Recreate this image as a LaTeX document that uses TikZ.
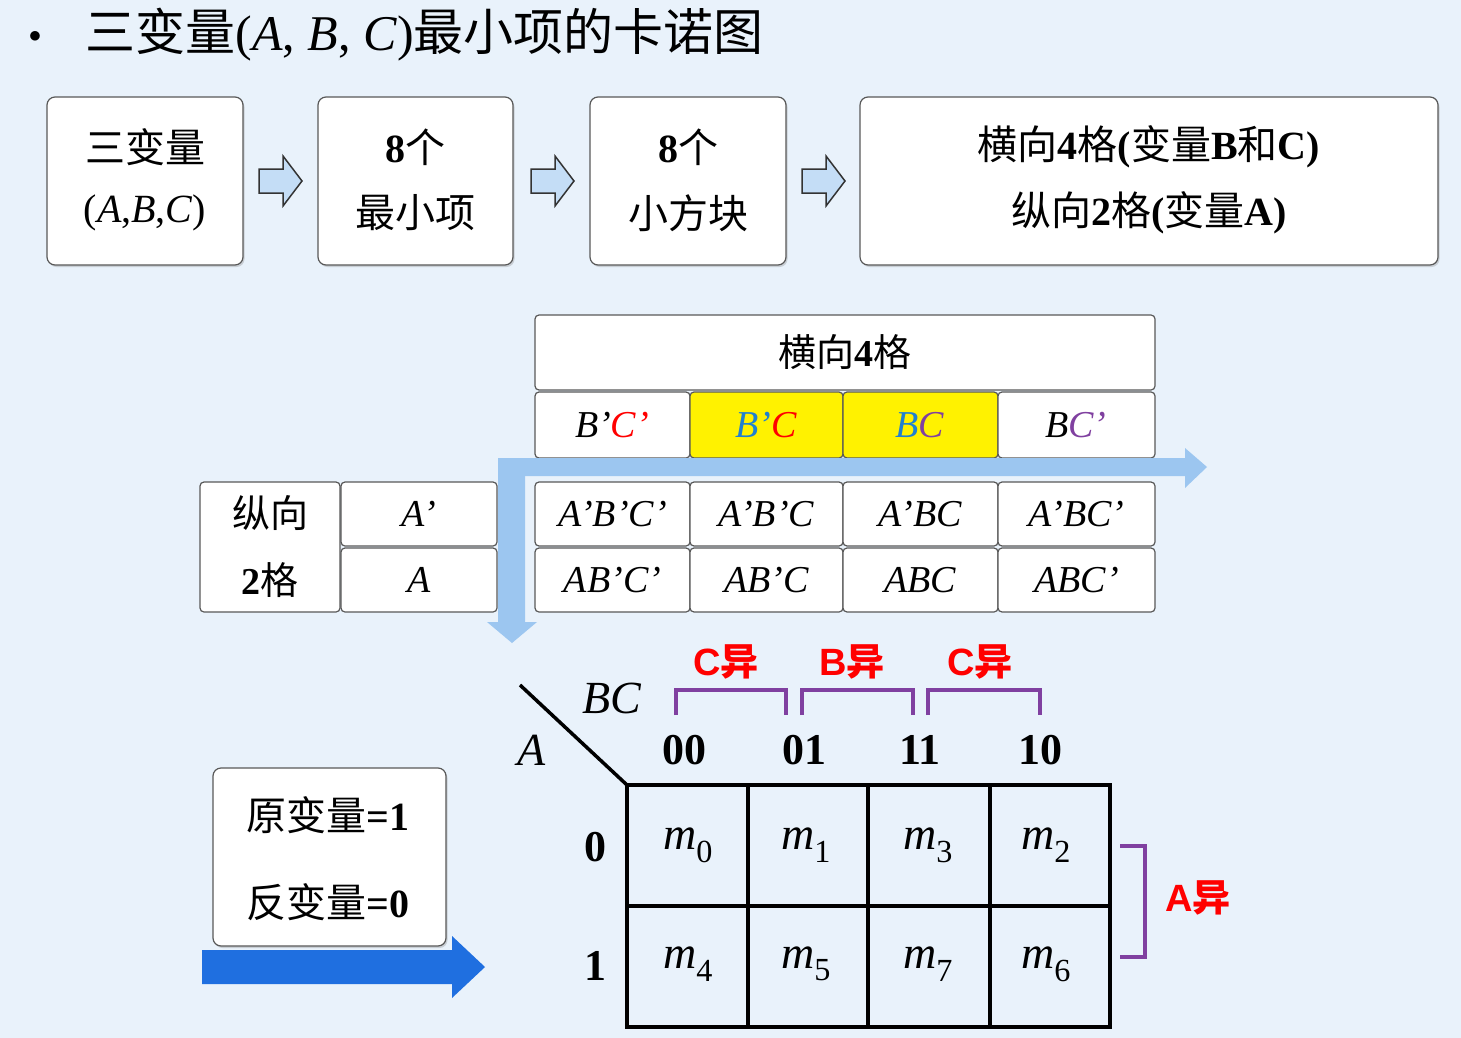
\documentclass[tikz,border=0pt]{standalone}
\usepackage{fontspec}
\setmainfont{Liberation Serif}
\newfontfamily\cjk{Noto Sans CJK SC}
\newfontfamily\sfb{Liberation Sans}
\usetikzlibrary{shadows}
\definecolor{bg}{HTML}{E9F2FB}
\definecolor{lb}{HTML}{9CC6F0}
\definecolor{pur}{HTML}{8040A0}
\definecolor{bb}{HTML}{1F6FE0}
\definecolor{bluet}{HTML}{2080D0}
\newcommand{\mysarrow}[2]{\draw[gray!40!black,line width=1.5pt,fill=lb!60] (#1-21,#2-12) -- (#1+3,#2-12) -- (#1+3,#2-25) -- (#1+22,#2) -- (#1+3,#2+25) -- (#1+3,#2+12) -- (#1-21,#2+12) -- cycle;}
\begin{document}
\begin{tikzpicture}[x=1pt,y=-1pt,
 box/.style={draw=gray!70!black,line width=1.2pt,fill=white,rounded corners=8pt,drop shadow={shadow xshift=1.5pt,shadow yshift=-2pt,opacity=0.3}},
 cell/.style={draw=gray!70!black,line width=1.2pt,fill=white,rounded corners=4pt},
 big/.style={font=\fontsize{40}{44}\selectfont},
 mid/.style={font=\fontsize{38}{40}\selectfont},
 kl/.style={font=\fontsize{44}{46}\selectfont\bfseries},
 mm/.style={font=\fontsize{46}{48}\selectfont},
 red/.style={text=red,font=\sfb\fontsize{38}{40}\selectfont\bfseries},
 brk/.style={draw=pur,line width=4pt}]
\useasboundingbox (0,0) rectangle (1461,1038);
\fill[bg] (0,0) rectangle (1461,1038);
% title
\node (bul) at (35,37) {\fontsize{36}{36}\selectfont$\bullet$};
\node[anchor=west] (title) at (82,35) {\fontsize{50}{52}\selectfont\cjk 三变量{\rmfamily(\textit{A}, \textit{B}, \textit{C})}最小项的卡诺图};
% top boxes
\draw[box] (47,97) rectangle (243,265);
\draw[box] (318,97) rectangle (513,265);
\draw[box] (590,97) rectangle (786,265);
\draw[box] (860,97) rectangle (1438,265);
\node[big] (t1) at (145,147) {\cjk 三变量};
\node[big] (t1b) at (145,213) {(\textit{A},\textit{B},\textit{C})};
\node[big] (t2) at (415,147) {\textbf{8}\cjk 个};
\node[big] (t2b) at (415,213) {\cjk 最小项};
\node[big] (t3) at (688,147) {\textbf{8}\cjk 个};
\node[big] (t3b) at (688,213) {\cjk 小方块};
\node[big] (t4) at (1149,147) {\cjk 横向{\rmfamily\bfseries 4}格{\rmfamily\bfseries (}变量{\rmfamily\bfseries B}和{\rmfamily\bfseries C)}};
\node[big] (t4b) at (1149,213) {\cjk 纵向{\rmfamily\bfseries 2}格{\rmfamily\bfseries (}变量{\rmfamily\bfseries A)}};
\mysarrow{280}{181}
\mysarrow{552}{181}
\mysarrow{823}{181}
% middle table
\draw[cell] (535,315) rectangle (1155,390);
\node[mid] (h4) at (845,352) {\cjk 横向{\rmfamily\bfseries 4}格};
\draw[cell] (535,392) rectangle (690,458);
\draw[cell,fill=yellow] (690,392) rectangle (843,458);
\draw[cell,fill=yellow] (843,392) rectangle (998,458);
\draw[cell] (998,392) rectangle (1155,458);
\node[mid] (c1) at (612,425) {\textit{B'\textcolor{red}{C'}}};
\node[mid] (c2) at (766,425) {\textit{\textcolor{bluet}{B'}\textcolor{red}{C}}};
\node[mid] (c3) at (920,425) {\textit{\textcolor{bluet}{B}\textcolor{pur}{C}}};
\node[mid] (c4) at (1076,425) {\textit{B\textcolor{pur}{C'}}};
% arrows
\fill[lb] (498,458) -- (1185,458) -- (1185,448) -- (1207,467) -- (1185,488) -- (1185,476) -- (516,476) -- (516,458) -- cycle;
\fill[lb] (498,458) -- (525,458) -- (525,622) -- (537,622) -- (512,643) -- (487,622) -- (498,622) -- cycle;
\draw[cell] (200,482) rectangle (340,612);
\node[mid] (z1) at (270,513) {\cjk 纵向};
\node[mid] (z2) at (270,580) {{\bfseries 2}\cjk 格};
\draw[cell] (341,482) rectangle (497,546);
\draw[cell] (341,548) rectangle (497,612);
\node[mid] (ra) at (419,514) {\textit{A'}};
\node[mid] (rb) at (419,580) {\textit{A}};
\foreach \xa/\xb/\t/\u in {535/690/A'B'C'/AB'C',690/843/A'B'C/AB'C,843/998/A'BC/ABC,998/1155/A'BC'/ABC'}{
 \draw[cell] (\xa,482) rectangle (\xb,546);
 \draw[cell] (\xa,548) rectangle (\xb,612);
 \node[mid] at ({(\xa+\xb)/2},514) {\textit{\t}};
 \node[mid] at ({(\xa+\xb)/2},580) {\textit{\u}};
}
% K-map
\draw[line width=4pt] (627,785) rectangle (1110,1027);
\foreach \x in {748,868,990} \draw[line width=4pt] (\x,785) -- (\x,1027);
\draw[line width=4pt] (627,906) -- (1110,906);
\coordinate (d1) at (520,685);
\coordinate (d2) at (627,785);
\draw[line width=3.5pt] (d1) -- (d2);
\node[font=\fontsize{46}{48}\selectfont\itshape] (bc) at (612,698) {BC};
\node[font=\fontsize{46}{48}\selectfont\itshape] (aa) at (532,750) {A};
\foreach \x/\t in {684/00,804/01,920/11,1040/10} \node[kl] at (\x,750) {\t};
\node[kl] (r0) at (595,847) {0};
\node[kl] (r1) at (595,966) {1};
\foreach \x/\a/\b in {688/0/4,806/1/5,928/3/7,1046/2/6}{
 \node[mm] at (\x,845) {\textit{m}\textsubscript{\a}};
 \node[mm] at (\x,964) {\textit{m}\textsubscript{\b}};
}
\draw[brk] (676,715) -- (676,690) -- (786,690) -- (786,715);
\draw[brk] (802,715) -- (802,690) -- (913,690) -- (913,715);
\draw[brk] (928,715) -- (928,690) -- (1040,690) -- (1040,715);
\node[red] (l1) at (726,662) {C\cjk 异};
\node[red] (l2) at (852,662) {B\cjk 异};
\node[red] (l3) at (980,662) {C\cjk 异};
\draw[brk] (1120,846) -- (1145,846) -- (1145,957) -- (1120,957);
\node[red] (l4) at (1198,898) {A\cjk 异};
% left box
\draw[box] (213,768) rectangle (446,946);
\node[big] (o1) at (328,815) {\cjk 原变量{\rmfamily\bfseries =1}};
\node[big] (o2) at (328,902) {\cjk 反变量{\rmfamily\bfseries =0}};
\fill[bb] (202,950) -- (452,950) -- (452,936) -- (485,967) -- (452,998) -- (452,984) -- (202,984) -- cycle;
\end{tikzpicture}
\end{document}
